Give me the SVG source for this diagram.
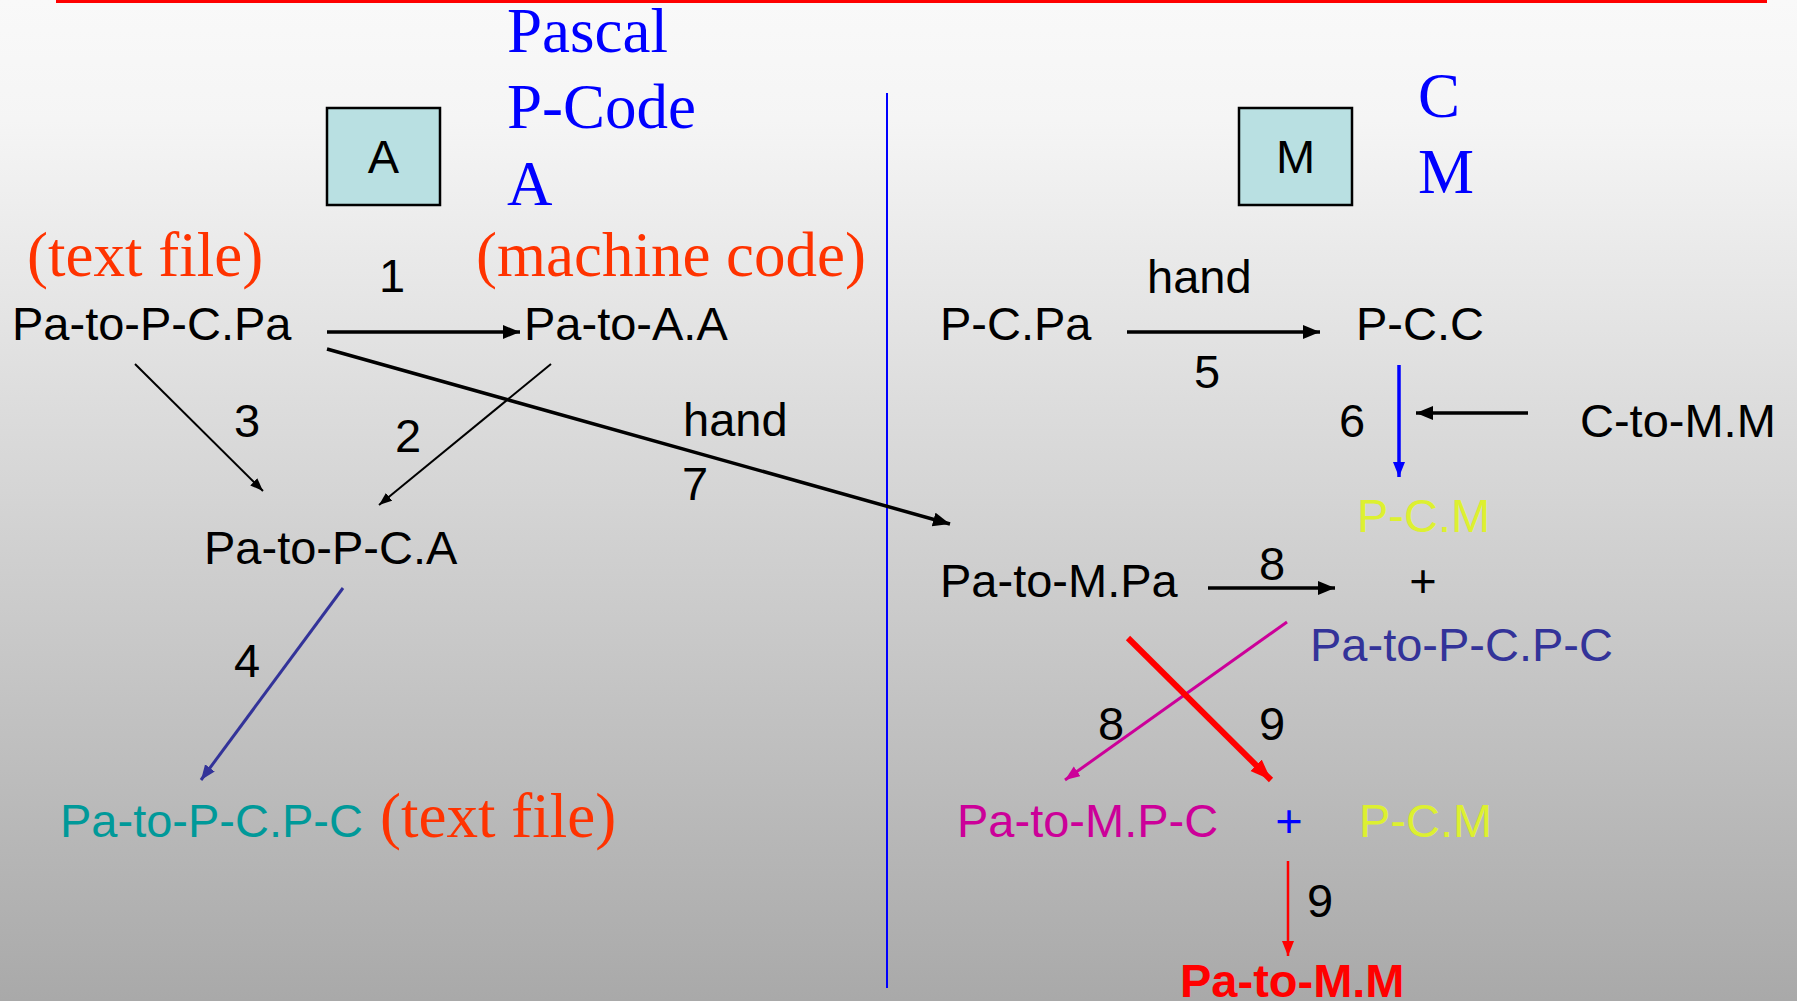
<svg xmlns="http://www.w3.org/2000/svg" width="1797" height="1001" viewBox="0 0 1797 1001">
  <defs>
    <linearGradient id="bg" x1="0" y1="0" x2="0" y2="1">
      <stop offset="0" stop-color="#f9f9f9"/>
      <stop offset="0.12" stop-color="#f5f5f5"/>
      <stop offset="1" stop-color="#a9a9a9"/>
    </linearGradient>
    <marker id="hBlack" markerUnits="userSpaceOnUse" markerWidth="18" markerHeight="16" refX="17" refY="7" orient="auto">
      <path d="M0,0 L17,7 L0,14 z" fill="#000"/>
    </marker>
    <marker id="hBlackSm" markerUnits="userSpaceOnUse" markerWidth="14" markerHeight="12" refX="13" refY="5" orient="auto">
      <path d="M0,0 L13,5 L0,10 z" fill="#000"/>
    </marker>
    <marker id="hBlue" markerUnits="userSpaceOnUse" markerWidth="16" markerHeight="14" refX="15" refY="6" orient="auto">
      <path d="M0,0 L15,6 L0,12 z" fill="#0000ff"/>
    </marker>
    <marker id="hNavy" markerUnits="userSpaceOnUse" markerWidth="16" markerHeight="14" refX="15" refY="6" orient="auto">
      <path d="M0,0 L15,6 L0,12 z" fill="#333399"/>
    </marker>
    <marker id="hMagenta" markerUnits="userSpaceOnUse" markerWidth="16" markerHeight="14" refX="15" refY="6" orient="auto">
      <path d="M0,0 L15,6 L0,12 z" fill="#cc0099"/>
    </marker>
    <marker id="hRed" markerUnits="userSpaceOnUse" markerWidth="22" markerHeight="18" refX="21" refY="8" orient="auto">
      <path d="M0,0 L21,8 L0,16 z" fill="#ff0000"/>
    </marker>
    <marker id="hRedSm" markerUnits="userSpaceOnUse" markerWidth="16" markerHeight="14" refX="15" refY="6" orient="auto">
      <path d="M0,0 L15,6 L0,12 z" fill="#ff0000"/>
    </marker>
  </defs>
  <style>
    .sans { font-family: "Liberation Sans", Arial, sans-serif; font-size: 47px; fill: #000; }
    .serif { font-family: "Liberation Serif", "Times New Roman", serif; font-size: 63px; }
    .blue { fill: #0000ff; }
    .orange { fill: #ff3300; }
    .teal { fill: #009999; }
    .navy { fill: #333399; }
    .magenta { fill: #cc0099; }
    .yellow { fill: #ddf030; }
    .red { fill: #ff0000; }
    .box { fill: #b9e0e2; stroke: #000; stroke-width: 2.5; }
    .num { font-family: "Liberation Sans", Arial, sans-serif; font-size: 47px; fill: #000; }
  </style>

  <!-- background -->
  <rect x="0" y="0" width="1797" height="1001" fill="url(#bg)"/>
  <line x1="56" y1="1" x2="1767" y2="1" stroke="#ff0000" stroke-width="4"/>
  <line x1="887" y1="93" x2="887" y2="988" stroke="#0000ff" stroke-width="2"/>

  <!-- machine A / machine M headers -->
  <g id="machine-a">
    <rect class="box" x="327" y="108" width="113" height="97"/>
    <text class="sans" x="383.5" y="173" text-anchor="middle">A</text>
  </g>
  <g id="legend-a">
    <text class="serif blue" x="507" y="52">Pascal</text>
    <text class="serif blue" x="507" y="128">P-Code</text>
    <text class="serif blue" x="507" y="205">A</text>
  </g>
  <g id="machine-m">
    <rect class="box" x="1239" y="108" width="113" height="97"/>
    <text class="sans" x="1295.5" y="173" text-anchor="middle">M</text>
  </g>
  <g id="legend-m">
    <text class="serif blue" x="1418" y="117">C</text>
    <text class="serif blue" x="1418" y="193">M</text>
  </g>

  <!-- left side nodes -->
  <g id="note-text-file-1"><text class="serif orange" x="27" y="276">(text file)</text></g>
  <g id="note-machine-code"><text class="serif orange" x="476" y="276">(machine code)</text></g>
  <g id="pa-to-pc-pa"><text class="sans" x="12" y="340">Pa-to-P-C.Pa</text></g>
  <g id="pa-to-a-a"><text class="sans" x="524" y="340">Pa-to-A.A</text></g>
  <g id="pa-to-pc-a"><text class="sans" x="204" y="564">Pa-to-P-C.A</text></g>
  <g id="pa-to-pc-pc-left">
    <text class="sans teal" x="60" y="837">Pa-to-P-C.P-C</text>
    <text class="serif orange" x="380" y="837">(text file)</text>
  </g>

  <!-- right side nodes -->
  <g id="pc-pa"><text class="sans" x="940" y="340">P-C.Pa</text></g>
  <g id="pc-c"><text class="sans" x="1356" y="340">P-C.C</text></g>
  <g id="c-to-m-m"><text class="sans" x="1580" y="437">C-to-M.M</text></g>
  <g id="pc-m-top"><text class="sans yellow" x="1357" y="532">P-C.M</text></g>
  <g id="pa-to-m-pa"><text class="sans" x="940" y="597">Pa-to-M.Pa</text></g>
  <g id="plus-top"><text class="sans" x="1423" y="597" text-anchor="middle">+</text></g>
  <g id="pa-to-pc-pc-right"><text class="sans navy" x="1310" y="661">Pa-to-P-C.P-C</text></g>
  <g id="pa-to-m-pc"><text class="sans magenta" x="957" y="837">Pa-to-M.P-C</text></g>
  <g id="plus-bottom"><text class="sans blue" x="1289" y="837" text-anchor="middle">+</text></g>
  <g id="pc-m-bottom"><text class="sans yellow" x="1359" y="837">P-C.M</text></g>
  <g id="pa-to-m-m"><text class="sans red" x="1180" y="997" font-weight="bold">Pa-to-M.M</text></g>

  <!-- connectors -->
  <g id="connectors" fill="none">
    <line x1="327" y1="332" x2="520" y2="332" stroke="#000" stroke-width="3.5" marker-end="url(#hBlack)"/>
    <line x1="551" y1="364" x2="379" y2="505" stroke="#000" stroke-width="2" marker-end="url(#hBlackSm)"/>
    <line x1="135" y1="364" x2="263" y2="491" stroke="#000" stroke-width="2" marker-end="url(#hBlackSm)"/>
    <line x1="343" y1="588" x2="201" y2="780" stroke="#333399" stroke-width="3" marker-end="url(#hNavy)"/>
    <line x1="327" y1="349" x2="950" y2="524" stroke="#000" stroke-width="3.5" marker-end="url(#hBlack)"/>
    <line x1="1127" y1="332" x2="1320" y2="332" stroke="#000" stroke-width="3.5" marker-end="url(#hBlack)"/>
    <line x1="1399" y1="365" x2="1399" y2="477" stroke="#0000ff" stroke-width="3.5" marker-end="url(#hBlue)"/>
    <line x1="1528" y1="413" x2="1416" y2="413" stroke="#000" stroke-width="3.5" marker-end="url(#hBlack)"/>
    <line x1="1208" y1="588" x2="1335" y2="588" stroke="#000" stroke-width="3.5" marker-end="url(#hBlack)"/>
    <line x1="1287" y1="622" x2="1065" y2="780" stroke="#cc0099" stroke-width="3" marker-end="url(#hMagenta)"/>
    <line x1="1128" y1="638" x2="1271" y2="780" stroke="#ff0000" stroke-width="6" marker-end="url(#hRed)"/>
    <line x1="1288" y1="861" x2="1288" y2="956" stroke="#ff0000" stroke-width="2.5" marker-end="url(#hRedSm)"/>
  </g>

  <!-- connector labels -->
  <g id="labels">
    <text class="num" x="392" y="292" text-anchor="middle">1</text>
    <text class="num" x="408" y="452" text-anchor="middle">2</text>
    <text class="num" x="247" y="437" text-anchor="middle">3</text>
    <text class="num" x="247" y="677" text-anchor="middle">4</text>
    <text class="num" x="683" y="436">hand</text>
    <text class="num" x="695" y="500" text-anchor="middle">7</text>
    <text class="num" x="1147" y="293">hand</text>
    <text class="num" x="1207" y="388" text-anchor="middle">5</text>
    <text class="num" x="1352" y="437" text-anchor="middle">6</text>
    <text class="num" x="1272" y="580" text-anchor="middle">8</text>
    <text class="num" x="1111" y="740" text-anchor="middle">8</text>
    <text class="num" x="1272" y="740" text-anchor="middle">9</text>
    <text class="num" x="1320" y="917" text-anchor="middle">9</text>
  </g>
</svg>
